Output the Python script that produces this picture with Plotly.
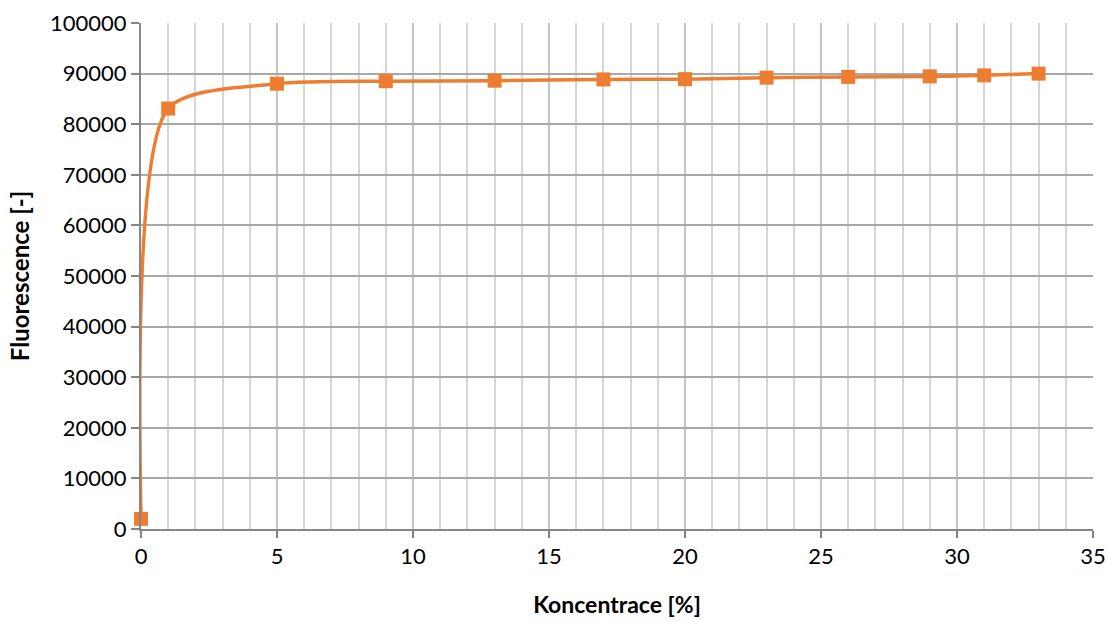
import plotly.graph_objects as go

koncentrace = [0, 1, 5, 9, 13, 17, 20, 23, 26, 29, 31, 33]
fluorescence = [2000, 83100, 88000, 88500, 88600, 88850, 88900, 89200, 89350, 89450, 89650, 90000]

x_ticks = [0, 5, 10, 15, 20, 25, 30, 35]
y_ticks = list(range(0, 100001, 10000))

orange = "#ED7D31"
fig = go.Figure()
fig.add_trace(go.Scatter(
    x=koncentrace, y=fluorescence, mode="lines+markers",
    line=dict(color=orange, width=3.5, shape="spline", smoothing=0.7),
    marker=dict(symbol="square", size=14, color=orange),
    cliponaxis=False,
    showlegend=False,
))

font_family = "Lato, 'Open Sans', sans-serif"
fig.update_layout(
    template="none",
    width=1108, height=621,
    margin=dict(l=141, r=15, t=23, b=92),
    paper_bgcolor="white", plot_bgcolor="white",
    font=dict(family=font_family, size=22, color="black"),
)
fig.update_xaxes(
    range=[0, 35], tickvals=x_ticks, ticks="outside", ticklen=7, tickcolor="#868686", tickwidth=1.5,
    showline=True, linecolor="#868686", linewidth=2,
    showgrid=True, gridcolor="#c4c4c4", gridwidth=1.5,
    minor=dict(dtick=1, showgrid=True, gridcolor="#d6d6d6", gridwidth=1.5),
    zeroline=False, automargin=False,
    title=dict(text="<b>Koncentrace [%]</b>", font=dict(size=23), standoff=28),
)
fig.update_yaxes(
    range=[0, 100000], tickvals=y_ticks, ticktext=[str(v) for v in y_ticks],
    ticks="outside", ticklen=8, tickcolor="#868686", tickwidth=1.5,
    showline=True, linecolor="#868686", linewidth=2,
    showgrid=True, gridcolor="#a8a8a8", gridwidth=1.5,
    zeroline=False, automargin=False,
    title=dict(text="<b>Fluorescence [-]</b>", font=dict(size=24), standoff=14),
)
fig.write_html("out.html")
